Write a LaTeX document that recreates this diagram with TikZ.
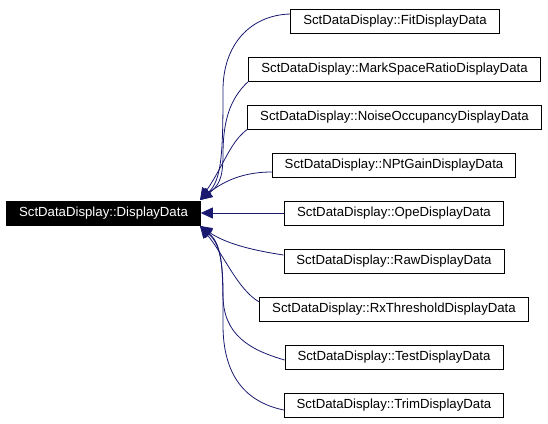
\documentclass[tikz,border=0pt]{standalone}
\usepackage{fontspec}
\setmainfont{Liberation Sans}
\usepackage{tikz}
\usetikzlibrary{arrows.meta}
\definecolor{edgeblue}{RGB}{25,25,112}

\begin{document}
\begin{tikzpicture}[x=1pt, y=-1pt,
    cls/.style={draw, fill=white, line width=0.8pt, inner xsep=12.5pt, minimum height=24pt, font=\fontsize{13.2}{15}\selectfont},
    base/.style={cls, fill=black, text=white},
    edge/.style={edgeblue, line width=0.8pt, -{Triangle[length=12pt, width=11pt]}}]
            \useasboundingbox (0,0) rectangle (548,423);
            \draw (103.5,213) node[base]                 (dd) {SctDataDisplay::DisplayData};
            \draw (395,21) node[cls]                    (fit) {SctDataDisplay::FitDisplayData};
            \draw (394.5,69) node[cls]                  (msr) {SctDataDisplay::MarkSpaceRatioDisplayData};
            \draw (394.5,117) node[cls]               (noise) {SctDataDisplay::NoiseOccupancyDisplayData};
            \draw (394,165) node[cls]                   (npt) {SctDataDisplay::NPtGainDisplayData};
            \draw (394,213) node[cls]                   (ope) {SctDataDisplay::OpeDisplayData};
            \draw (394,261) node[cls]                   (raw) {SctDataDisplay::RawDisplayData};
            \draw (394,309) node[cls]                    (rx) {SctDataDisplay::RxThresholdDisplayData};
            \draw (394,357) node[cls]                  (test) {SctDataDisplay::TestDisplayData};
            \draw (394,405) node[cls]                  (trim) {SctDataDisplay::TrimDisplayData};
            \coordinate (up) at (200,200);
            \coordinate (lo) at (200,226);
            \draw[edge] ([yshift=7pt]fit.west) .. controls (250,15) and (223,45) .. (223,90) .. controls (223,150) and (222,180) .. (up);
            \draw[edge] (msr.south west) .. controls (228,100) and (223,125) .. (223,155) .. controls (223,180) and (218,186) .. (up);
            \draw[edge] (noise.south west) .. controls (230,142) and (224,165) .. (up);
            \draw[edge] ([yshift=-7pt]npt.west) .. controls (245,172) and (225,180) .. (up);
            \draw[edge] (ope) -- (dd);
            \draw[edge] ([yshift=6pt]raw.west) .. controls (250,250) and (225,243) .. (lo);
            \draw[edge] ([yshift=7pt]rx.west) .. controls (238,290) and (224,255) .. (lo);
            \draw[edge] ([yshift=-3pt]test.west) .. controls (250,350) and (223,335) .. (223,295) .. controls (223,262) and (220,244) .. (lo);
            \draw[edge] ([yshift=-5pt]trim.west) .. controls (245,402) and (223,375) .. (223,325) .. controls (223,270) and (223,245) .. (lo);
\end{tikzpicture}
\end{document}
